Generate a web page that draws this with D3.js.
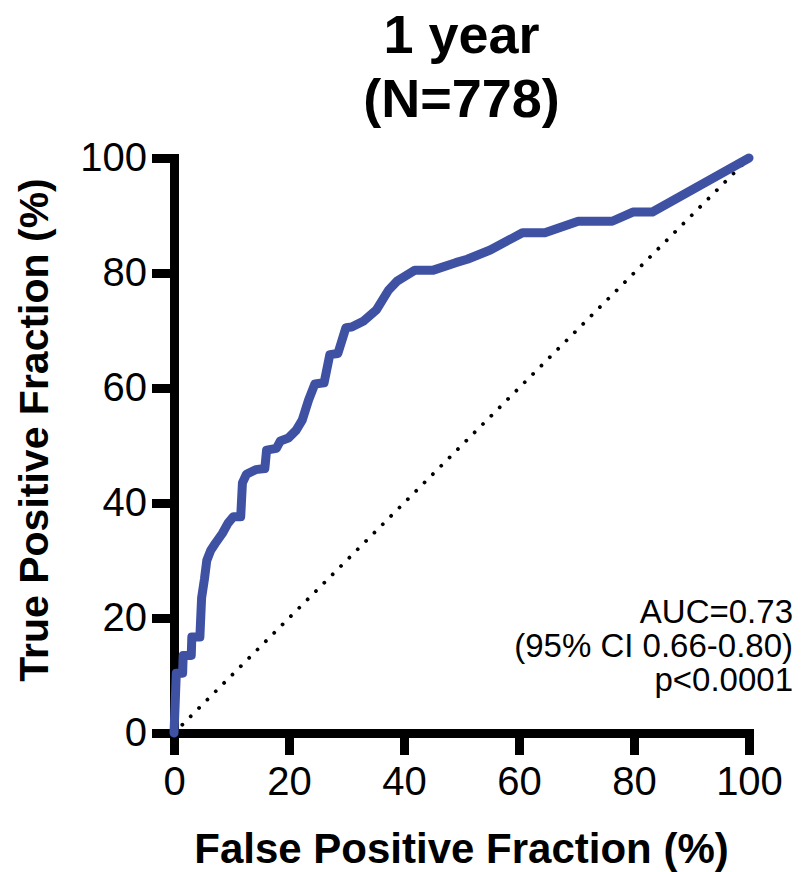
<!DOCTYPE html>
<html>
<head>
<meta charset="utf-8">
<script src="https://cdn.jsdelivr.net/npm/d3@7/dist/d3.min.js"></script>
<style>
  html, body { margin: 0; padding: 0; background: #fff; }
  svg { display: block; }
  text { font-family: "Liberation Sans", Arial, Helvetica, sans-serif; fill: #000; }
</style>
</head>
<body>
<svg id="chart" width="802" height="872"></svg>
<script>
// ROC curve, 1-year outcome: false positive fraction (%) vs true positive fraction (%)
const fpr = [0, 0.2, 0.4, 1.5, 1.6, 3.0, 3.1, 4.5, 4.8, 5.3, 5.7, 6.4, 7.2, 8.4, 9.4, 10.3, 11.6, 11.9, 12.6, 14.2,
             15.8, 16.1, 17.8, 18.5, 19.9, 21.2, 22.3, 23.4, 24.5, 26.1, 27.1, 28.5, 29.9, 30.9, 32.9, 35.2, 37.3, 38.8,
             41.9, 45.1, 49.0, 51.0, 55.0, 60.6, 64.5, 70.3, 76.2, 79.8, 83.2, 100];
const tpr = [0, 5.0, 10.4, 10.4, 13.5, 13.5, 16.7, 16.7, 23.5, 26.8, 30.0, 31.8, 33.0, 34.7, 36.5, 37.6, 37.6, 43.5, 45.0, 45.8,
             46.0, 49.2, 49.5, 50.8, 51.3, 52.6, 54.4, 57.9, 60.7, 60.9, 65.8, 66.0, 70.5, 70.6, 71.6, 73.6, 77.0, 78.6,
             80.5, 80.5, 81.8, 82.4, 84.0, 87.0, 87.0, 89.0, 89.0, 90.6, 90.6, 100];

// reference (chance) line
const chanceX = [0, 100];
const chanceY = [0, 100];

const xTicks = [0, 20, 40, 60, 80, 100];
const yTicks = [0, 20, 40, 60, 80, 100];

const titleLines = ["1 year", "(N=778)"];
const xTitle = "False Positive Fraction (%)";
const yTitle = "True Positive Fraction (%)";
const statLines = ["AUC=0.73", "(95% CI 0.66-0.80)", "p<0.0001"];

const svg = d3.select("#chart");

const x = d3.scaleLinear().domain([0, 100]).range([174, 749]);
const y = d3.scaleLinear().domain([0, 100]).range([733, 158]);

// chance diagonal (dotted)
svg.append("path")
  .datum(chanceX.map((v, i) => [v, chanceY[i]]))
  .attr("d", d3.line().x(d => x(d[0])).y(d => y(d[1])))
  .attr("fill", "none")
  .attr("stroke", "#000")
  .attr("stroke-width", 3.8)
  .attr("stroke-linecap", "round")
  .attr("stroke-dasharray", "0.01 11.8");

// axes
const axisStroke = 9;
const yAxis = svg.append("g")
  .attr("transform", `translate(${x(0)},0)`)
  .call(d3.axisLeft(y).tickValues(yTicks).tickSize(22).tickSizeOuter(0).tickPadding(5));
const xAxis = svg.append("g")
  .attr("transform", `translate(0,${y(0)})`)
  .call(d3.axisBottom(x).tickValues(xTicks).tickSize(22).tickSizeOuter(0).tickPadding(12));

[yAxis, xAxis].forEach(g => {
  g.select(".domain").attr("stroke", "#000").attr("stroke-width", axisStroke).attr("stroke-linecap", "square");
  g.selectAll(".tick line").attr("stroke", "#000").attr("stroke-width", axisStroke);
  g.selectAll(".tick text").attr("font-size", 40).attr("font-family", "Liberation Sans, Arial, sans-serif").attr("fill", "#000");
});

// ROC curve
svg.append("path")
  .datum(fpr.map((v, i) => [v, tpr[i]]))
  .attr("d", d3.line().x(d => x(d[0])).y(d => y(d[1])))
  .attr("fill", "none")
  .attr("stroke", "#3F51A3")
  .attr("stroke-width", 9)
  .attr("stroke-linejoin", "round")
  .attr("stroke-linecap", "round");

// title
svg.append("g").selectAll("text")
  .data(titleLines)
  .join("text")
  .attr("x", (x(0) + x(100)) / 2)
  .attr("y", (d, i) => 53 + i * 64)
  .attr("text-anchor", "middle")
  .attr("font-size", 54)
  .attr("font-weight", "bold")
  .text(d => d);

// axis titles
svg.append("text")
  .attr("x", (x(0) + x(100)) / 2)
  .attr("y", 863)
  .attr("text-anchor", "middle")
  .attr("font-size", 42)
  .attr("font-weight", "bold")
  .text(xTitle);

svg.append("text")
  .attr("transform", `translate(48,430) rotate(-90)`)
  .attr("text-anchor", "middle")
  .attr("font-size", 41)
  .attr("font-weight", "bold")
  .text(yTitle);

// statistics annotation
svg.append("g").selectAll("text")
  .data(statLines)
  .join("text")
  .attr("x", 793)
  .attr("y", (d, i) => 623 + i * 34)
  .attr("text-anchor", "end")
  .attr("font-size", 33)
  .text(d => d);
</script>
</body>
</html>
